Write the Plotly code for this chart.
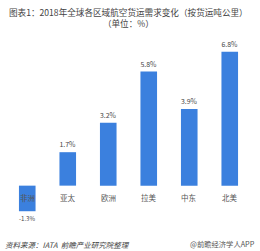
import plotly.graph_objects as go

categories = ["非洲", "亚太", "欧洲", "拉美", "中东", "北美"]
values = [-1.3, 1.7, 3.2, 5.8, 3.9, 6.8]
value_labels = ["-1.3%", "1.7%", "3.2%", "5.8%", "3.9%", "6.8%"]

FONT = "Noto Sans CJK SC"
BAR = "#3b80de"

fig = go.Figure()
fig.add_trace(go.Bar(
    x=categories, y=values, marker_color=BAR, marker_line_width=0,
    text=value_labels, textposition="outside", cliponaxis=False,
    textfont=dict(family=FONT, size=7, color="#444"),
))

for c in categories:
    fig.add_annotation(x=c, y=0, text=c, showarrow=False, yanchor="top", yshift=-4,
                       font=dict(family=FONT, size=7.5, color="#555"))

fig.add_annotation(xref="paper", yref="paper", x=0.5, y=1, yshift=38, yanchor="top",
                   text="图表1：2018年全球各区域航空货运需求变化（按货运吨公里）<br>（单位：%）",
                   showarrow=False, font=dict(family=FONT, size=8.6, color="#444"))

fig.add_annotation(xref="paper", yref="paper", x=-0.015, xanchor="left", y=0, yshift=-12, yanchor="top",
                   text="<i>资料来源：IATA  前瞻产业研究院整理</i>", showarrow=False,
                   font=dict(family=FONT, size=7.5, color="#444"))
fig.add_annotation(xref="paper", yref="paper", x=1.03, xanchor="right", y=0, yshift=-12, yanchor="top",
                   text="@前瞻经济学人APP", showarrow=False,
                   font=dict(family=FONT, size=7.3, color="#555"))

fig.update_layout(
    width=260, height=251,
    margin=dict(l=7, r=10, t=42, b=26),
    paper_bgcolor="white", plot_bgcolor="white",
    bargap=0.59, showlegend=False,
    xaxis=dict(showticklabels=False, showgrid=False, zeroline=False, showline=False, ticks=""),
    yaxis=dict(range=[-2.0, 7.3], showticklabels=False, showgrid=False, zeroline=False, showline=False),
)

fig.write_html("out.html")
